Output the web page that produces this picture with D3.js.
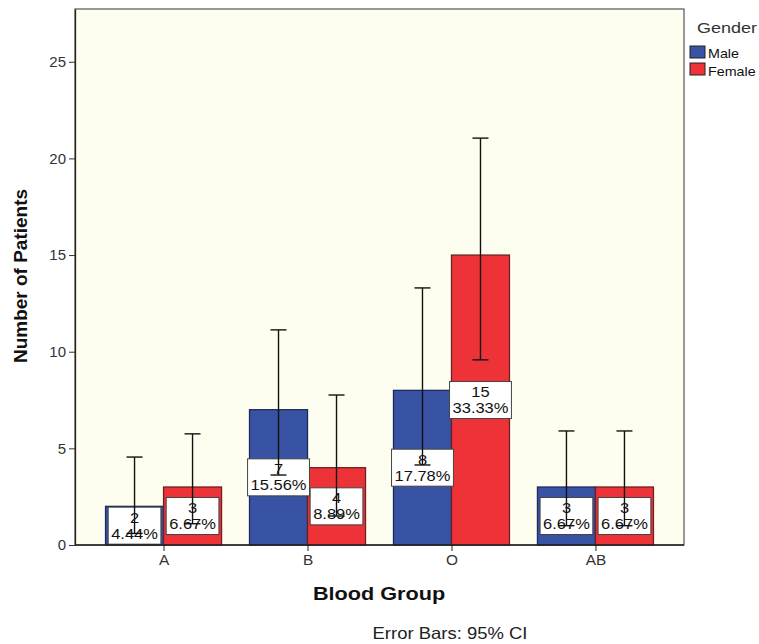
<!DOCTYPE html>
<html><head><meta charset="utf-8">
<script src="https://cdn.jsdelivr.net/npm/d3@7"></script>
<style>body{margin:0;background:#fff;} svg{display:block;font-family:"Liberation Sans",Arial,sans-serif;}</style>
</head><body>
<svg id="c" width="759" height="644"></svg>
<script>
const categories = ["A", "B", "O", "AB"];
const genders = ["Male", "Female"];
const maleCounts = [2, 7, 8, 3];
const femaleCounts = [3, 4, 15, 3];
const malePercents = ["4.44%", "15.56%", "17.78%", "6.67%"];
const femalePercents = ["6.67%", "8.89%", "33.33%", "6.67%"];
const maleCILow = [0.6, 3.62, 4.14, 1.0];
const maleCIHigh = [4.55, 11.13, 13.3, 5.9];
const femaleCILow = [1.1, 1.5, 9.58, 1.0];
const femaleCIHigh = [5.75, 7.76, 21.05, 5.9];
const yTicks = [0, 5, 10, 15, 20, 25];
const colors = {Male: "#3953a4", Female: "#ee3338"};

const svg = d3.select("#c");
const L = 75, R = 684, T = 9, B = 545;

const x = d3.scalePoint().domain(categories).range([L, R]).padding(0.615);
const xg = d3.scaleBand().domain(genders).range([-58, 58]);
const y = d3.scaleLinear().domain([0, 27.73]).range([B, T]);

// stretched text helper
function stext(parent, tx, ty, sx, txt, size, opts = {}) {
  const t = parent.append("text")
    .attr("transform", `translate(${tx},${ty}) scale(${sx},1)`)
    .attr("font-size", size)
    .attr("fill", opts.fill || "#111")
    .attr("text-anchor", opts.anchor || "start")
    .text(txt);
  if (opts.bold) t.attr("font-weight", "bold");
  return t;
}

svg.append("rect").attr("x", L).attr("y", T).attr("width", R - L).attr("height", B - T)
  .attr("fill", "#fefef0").attr("stroke", "#555").attr("stroke-width", 1.2);

const rows = [];
categories.forEach((c, i) => {
  rows.push({c, g: "Male", v: maleCounts[i], p: malePercents[i], lo: maleCILow[i], hi: maleCIHigh[i]});
  rows.push({c, g: "Female", v: femaleCounts[i], p: femalePercents[i], lo: femaleCILow[i], hi: femaleCIHigh[i]});
});

// bars
svg.append("g").selectAll("rect").data(rows).join("rect")
  .attr("x", d => x(d.c) + xg(d.g))
  .attr("y", d => y(d.v))
  .attr("width", xg.bandwidth())
  .attr("height", d => y(0) - y(d.v))
  .attr("fill", d => colors[d.g])
  .attr("stroke", d => d.g === "Male" ? "#1e2a5e" : "#6a2222")
  .attr("stroke-width", 1.3);

// labels
const lg = svg.append("g");
const SX = 1.1;
rows.forEach(d => {
  const cx = x(d.c) + xg(d.g) + xg.bandwidth() / 2;
  const cy = y(d.v / 2);
  const g = lg.append("g");
  const box = g.append("rect");
  stext(g, cx, cy - 3, SX, d.v, 15, {anchor: "middle"});
  const t2 = stext(g, cx, cy + 13, SX, d.p, 15, {anchor: "middle"});
  const w = t2.node().getComputedTextLength() * SX + 6;
  box.attr("x", cx - w / 2).attr("y", cy - 18.5).attr("width", w).attr("height", 37)
    .attr("fill", "#fff").attr("stroke", "#444").attr("stroke-width", 1);
});

// error bars
const eg = svg.append("g").attr("stroke", "#111").attr("stroke-width", 1.4);
rows.forEach(d => {
  const cx = x(d.c) + xg(d.g) + xg.bandwidth() / 2;
  eg.append("line").attr("x1", cx).attr("x2", cx).attr("y1", y(d.lo)).attr("y2", y(d.hi));
  eg.append("line").attr("x1", cx - 8).attr("x2", cx + 8).attr("y1", y(d.hi)).attr("y2", y(d.hi));
  eg.append("line").attr("x1", cx - 8).attr("x2", cx + 8).attr("y1", y(d.lo)).attr("y2", y(d.lo));
});

// axes
const ya = svg.append("g").attr("transform", `translate(${L},0)`)
  .call(d3.axisLeft(y).tickValues(yTicks).tickSize(6).tickSizeOuter(0).tickPadding(3));
ya.select(".domain").attr("stroke", "#222").attr("stroke-width", 1.3);
ya.selectAll(".tick line").attr("stroke", "#333");
ya.selectAll(".tick text").attr("font-size", 15).attr("fill", "#333").attr("font-family", "Liberation Sans, Arial, sans-serif");

const xa = svg.append("g").attr("transform", `translate(0,${B})`)
  .call(d3.axisBottom(x).tickSize(6).tickSizeOuter(0).tickPadding(4));
xa.select(".domain").remove();
xa.selectAll(".tick line").attr("stroke", "#222");
xa.selectAll(".tick text").attr("font-size", 14).attr("fill", "#333").attr("font-family", "Liberation Sans, Arial, sans-serif")
  .attr("transform", "scale(1.1,1)").attr("x", function(){ return 0; });
svg.append("line").attr("x1", L).attr("x2", R).attr("y1", B).attr("y2", B).attr("stroke", "#222").attr("stroke-width", 1.3);

// titles
svg.append("text").attr("transform", "translate(27,276) rotate(-90)").attr("text-anchor", "middle")
  .attr("font-size", 19).attr("font-weight", "bold").attr("fill", "#111").text("Number of Patients");
stext(svg, 379, 600, 1.23, "Blood Group", 17.6, {anchor: "middle", bold: true});
stext(svg, 450, 639, 1.12, "Error Bars: 95% CI", 16.5, {anchor: "middle", fill: "#222"});

// legend
const leg = svg.append("g");
stext(leg, 697, 33, 1.2, "Gender", 15, {fill: "#333"});
genders.forEach((g, i) => {
  leg.append("rect").attr("x", 690).attr("y", 46 + i * 17).attr("width", 15).attr("height", 12)
    .attr("fill", colors[g]).attr("stroke", "#222").attr("stroke-width", 1);
  stext(leg, 708, 58 + i * 17.5, 1.1, g, 13);
});
</script>
</body></html>
